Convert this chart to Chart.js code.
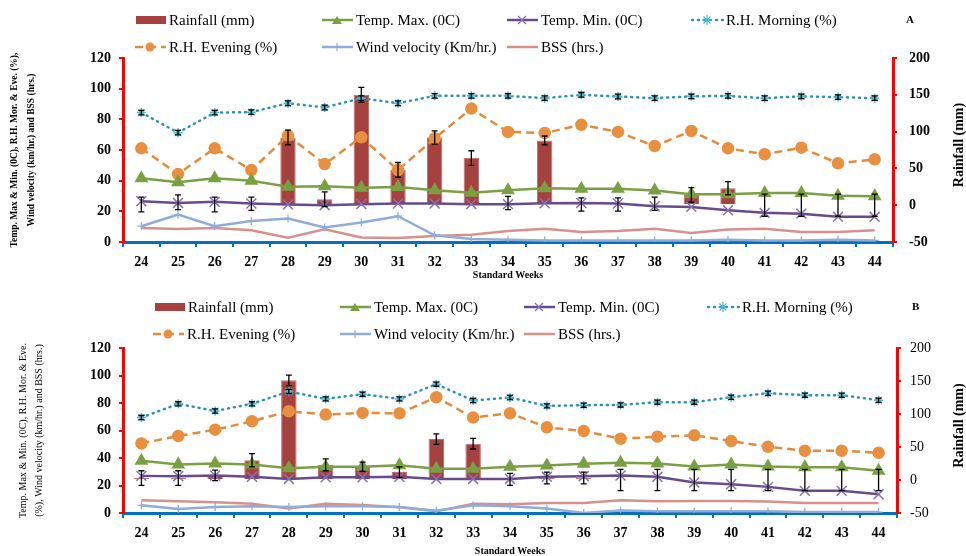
<!DOCTYPE html>
<html>
<head>
<meta charset="utf-8">
<script src="https://cdn.jsdelivr.net/npm/chart.js@4.4.1/dist/chart.umd.min.js"></script>
<style>
  body { margin: 0; background: #fff; }
  #wrap { position: relative; width: 966px; height: 556px; font-family: "Liberation Serif", serif; }
  canvas { position: absolute; left: 0; }
  .leg { position: absolute; display: flex; align-items: center; font-size: 15px; white-space: nowrap; color: #000; }
  .leg svg { margin-right: 2px; }
  .tag { position: absolute; font-weight: bold; font-size: 11px; }
</style>
</head>
<body>
<div id="wrap">
  <canvas id="chartA" width="966" height="280" style="top:0"></canvas>
  <canvas id="chartB" width="966" height="276" style="top:280px"></canvas>
  <div class="tag" style="left:906px;top:13px">A</div>
  <div class="tag" style="left:912px;top:300px">B</div>
</div>
<script>
const weeks = ['24','25','26','27','28','29','30','31','32','33','34','35','36','37','38','39','40','41','42','43','44'];

// Panel A
const rainA    = [1, 4, 1, 2, 92, 8, 150, 48, 92, 64, 3, 88, 1, 1, 2, 14, 23, 0, 0, 0, 0];
const rainErrA = [10, 10, 10, 9, 10, 10, 10, 10, 9, 10, 9, 6, 9, 9, 9, 10, 9, 15, 15, 15, 15];
const tMaxA    = [41.5, 39, 41.5, 40, 36, 36.4, 35.3, 35.8, 33.8, 32.1, 33.8, 35.1, 34.7, 34.7, 33.6, 31.2, 31.2, 31.9, 31.9, 30.1, 29.9];
const tMinA    = [26.6, 25.5, 26.2, 25.1, 24.4, 24, 24.7, 25.1, 25.1, 24.7, 24.7, 25.3, 25.5, 25.1, 23.3, 22.9, 20.7, 19, 18.5, 16.4, 16.4];
const rhMornA  = [84.4, 71.3, 84.4, 84.7, 90.5, 87.7, 93.8, 90.5, 95.3, 95.3, 95.3, 93.8, 96, 94.9, 93.8, 95, 95.3, 93.8, 95, 94.5, 93.8];
const rhMornErrA = [1.5, 1.5, 1.5, 1.5, 1.5, 1.5, 1.5, 1.5, 1.5, 1.5, 1.5, 1.5, 1.5, 1.5, 1.5, 1.5, 1.5, 1.5, 1.5, 1.5, 1.5];
const rhEveA   = [61.1, 44.3, 61.1, 46.9, 69.4, 50.8, 68.3, 46.9, 67.6, 87, 71.8, 71.1, 76.4, 71.8, 62.6, 72.4, 61.1, 57.2, 61.5, 51.3, 53.9];
const windA    = [10.3, 17.9, 10.3, 13.7, 15.3, 9.4, 12.7, 16.8, 4.4, 2, 1.5, 1, 1, 1, 1, 1, 1.5, 1, 1, 1.5, 1];
const bssA     = [9.2, 8.5, 9.2, 7.6, 2.8, 8.3, 3, 2.6, 3.9, 4.8, 7.2, 8.7, 6.5, 7.2, 8.7, 5.9, 8.1, 8.7, 6.5, 6.5, 7.6];

// Panel B
const rainB    = [3, 3, 7, 30, 151, 23, 20, 12, 62, 55, 1, 3, 3, 0, 0, 0, 0, 0, 0, 0, 0];
const rainErrB = [11, 11, 8, 10, 8, 9, 7, 8, 8, 8, 9, 9, 9, 16, 16, 16, 16, 16, 16, 16, 16];
const tMaxB    = [38, 35.3, 36, 35.3, 32.6, 33.6, 33.6, 34.8, 32.1, 32.1, 33.6, 34.6, 35.8, 36.5, 36, 33.8, 35.3, 33.8, 33.3, 33.3, 30.7];
const tMinB    = [27, 26.8, 27.3, 26.3, 24.8, 26, 26, 26.3, 24.8, 24.8, 24.8, 26.3, 26.8, 27.3, 26.3, 22.2, 20.9, 19, 16.1, 16.1, 13.6];
const rhMornB  = [69.4, 79.4, 74.2, 79.4, 88.4, 83, 86.4, 83, 93.7, 81.8, 84, 77.9, 78.4, 78.6, 80.6, 80.6, 84.2, 87.1, 85.7, 85.7, 82];
const rhMornErrB = [1.5, 1.5, 1.5, 1.5, 1.5, 1.5, 1.5, 1.5, 1.5, 1.5, 1.5, 1.5, 1.5, 1.5, 1.5, 1.5, 1.5, 1.5, 1.5, 1.5, 1.5];
const rhEveB   = [50.6, 56, 60.6, 66.7, 74, 71.6, 72.8, 72.5, 84.2, 69.4, 72.5, 62.3, 59.6, 54, 55.5, 56.5, 52.3, 48.2, 45.3, 45.3, 43.8];
const windB    = [5.6, 2.9, 4.4, 4.9, 4.4, 4.9, 4.9, 4.4, 1.7, 5.6, 4.9, 3.2, 0, 1.9, 1.2, 1.2, 1.2, 1.2, 0.7, 0.7, 0.7];
const bssB     = [9.3, 8.5, 7.8, 6.8, 3.2, 6.8, 5.8, 4.1, 1.2, 6.8, 6.3, 7.3, 7.3, 9.3, 8.5, 8.8, 8.8, 8.3, 7.3, 7.3, 7.3];

const SERIF = '"Liberation Serif", "Times New Roman", serif';
const RED = '#FF0000', BLUE = '#0070C0';

// black error bars for datasets that carry an "errors" array
const errorBars = {
  id: 'errorBars',
  afterDatasetsDraw(chart) {
    const ctx = chart.ctx;
    chart.data.datasets.forEach((ds, i) => {
      if (!ds.errors) return;
      const meta = chart.getDatasetMeta(i);
      const scale = chart.scales[ds.yAxisID];
      ctx.save();
      ctx.strokeStyle = '#000';
      ctx.lineWidth = 1.3;
      meta.data.forEach((el, j) => {
        const e = ds.errors[j];
        if (!e) return;
        const v = ds.data[j];
        const x = el.x;
        const y1 = scale.getPixelForValue(v + e), y2 = scale.getPixelForValue(v - e);
        ctx.beginPath();
        ctx.moveTo(x, y1); ctx.lineTo(x, y2);
        ctx.moveTo(x - 3, y1); ctx.lineTo(x + 3, y1);
        ctx.moveTo(x - 3, y2); ctx.lineTo(x + 3, y2);
        ctx.stroke();
      });
      ctx.restore();
    });
  }
};

// right axis title, reading bottom to top
const rightTitle = {
  id: 'rightTitle',
  afterDraw(chart, args, opts) {
    const ctx = chart.ctx, a = chart.chartArea;
    ctx.save();
    ctx.translate(opts.x, (a.top + a.bottom) / 2 - 5);
    ctx.rotate(-Math.PI / 2);
    ctx.font = 'bold 14px ' + SERIF;
    ctx.fillStyle = '#000';
    ctx.textAlign = 'center';
    ctx.textBaseline = 'middle';
    ctx.fillText(opts.text, 0, 0);
    ctx.restore();
  }
};

function makeDatasets(rain, rainErr, tMax, tMin, rhMorn, rhMornErr, rhEve, wind, bss) {
  return [
    { type: 'bar', label: 'Rainfall (mm)', data: rain, errors: rainErr, yAxisID: 'y1', order: 10,
      backgroundColor: '#A5423F', borderColor: '#C0706C', borderWidth: 1,
      categoryPercentage: 1, barPercentage: 0.42 },
    { type: 'line', label: 'Temp. Max. (0C)', data: tMax, yAxisID: 'y', order: 3,
      borderColor: '#79A042', borderWidth: 2.5, pointStyle: 'triangle', pointRadius: 5.5,
      pointBackgroundColor: '#79A042', pointBorderColor: '#79A042' },
    { type: 'line', label: 'Temp. Min. (0C)', data: tMin, yAxisID: 'y', order: 2,
      borderColor: '#674B8A', borderWidth: 2.5, pointStyle: 'crossRot', pointRadius: 7,
      pointBorderColor: '#8A70B0', pointBorderWidth: 1.5 },
    { type: 'line', label: 'R.H. Morning (%)', data: rhMorn, errors: rhMornErr, yAxisID: 'y', order: 5,
      borderColor: '#2C93AE', borderWidth: 2.5, borderDash: [1, 5], borderCapStyle: 'round',
      pointStyle: 'star', pointRadius: 4.5, pointBorderColor: '#4CB6CE', pointBorderWidth: 1.5 },
    { type: 'line', label: 'R.H. Evening (%)', data: rhEve, yAxisID: 'y', order: 4,
      borderColor: '#E38B3C', borderWidth: 2.5, borderDash: [8, 5],
      pointStyle: 'circle', pointRadius: 5, pointBackgroundColor: '#E8903F', pointBorderColor: '#E8903F' },
    { type: 'line', label: 'Wind velocity (Km/hr.)', data: wind, yAxisID: 'y', order: 6,
      borderColor: '#8FADD8', borderWidth: 2.5, pointStyle: 'cross', pointRadius: 4,
      pointBorderColor: '#8FADD8', pointBorderWidth: 1.3 },
    { type: 'line', label: 'BSS (hrs.)', data: bss, yAxisID: 'y', order: 7,
      borderColor: '#D6918F', borderWidth: 2.5, pointRadius: 0 }
  ];
}

function makeChart(id, datasets, o) {
  return new Chart(document.getElementById(id), {
    type: 'bar',
    data: { labels: weeks, datasets },
    plugins: [errorBars, rightTitle],
    options: {
      responsive: false,
      animation: false,
      devicePixelRatio: 1,
      layout: { padding: { top: o.top, left: 0, right: 0, bottom: 0 } },
      plugins: {
        legend: { display: false },
        tooltip: { enabled: false },
        rightTitle: { text: 'Rainfall (mm)', x: 959 }
      },
      scales: {
        x: {
          offset: true,
          afterFit: s => { s.height = o.xh; },
          grid: { offset: true, drawOnChartArea: false, color: BLUE, lineWidth: 2, tickLength: 5 },
          border: { color: BLUE, width: 3 },
          ticks: { color: '#000', padding: 7, font: { family: SERIF, size: 14, weight: 'bold' } },
          title: { display: true, text: 'Standard Weeks', color: '#000',
                   font: { family: SERIF, size: 10, weight: 'bold', lineHeight: 1 }, padding: { top: 0, bottom: 0 } }
        },
        y: {
          position: 'left', min: 0, max: 120,
          afterFit: s => { s.width = 123; },
          grid: { drawOnChartArea: false, color: RED, lineWidth: 2, tickLength: 4 },
          border: { color: RED, width: 3 },
          ticks: { stepSize: 20, color: '#000', padding: 8, font: { family: SERIF, size: 14, weight: 'bold' } },
          title: { display: true, text: o.yTitle, color: '#000', font: o.yTitleFont, padding: o.yTitlePad }
        },
        y1: {
          position: 'right', min: -50, max: 200,
          afterFit: s => { s.width = o.rw; },
          grid: { drawOnChartArea: false, color: RED, lineWidth: 2, tickLength: 4 },
          border: { color: RED, width: 3 },
          ticks: { stepSize: 50, color: '#000', padding: o.rPad, font: o.rFont }
        }
      }
    }
  });
}

const chartA = makeChart('chartA',
  makeDatasets(rainA, rainErrA, tMaxA, tMinA, rhMornA, rhMornErrA, rhEveA, windA, bssA),
  { top: 58, xh: 38, rw: 73, rPad: 12,
    rFont: { family: SERIF, size: 14, weight: 'bold' },
    yTitle: ['Temp. Max & Min. (0C), R.H. Mor. & Eve. (%),', 'Wind velocity (km/hr.) and BSS (hrs.)'],
    yTitleFont: { family: SERIF, size: 9.5, weight: 'bold', lineHeight: '17px' },
    yTitlePad: { top: 6, bottom: 0 } });

const chartB = makeChart('chartB',
  makeDatasets(rainB, rainErrB, tMaxB, tMinB, rhMornB, rhMornErrB, rhEveB, windB, bssB),
  { top: 68, xh: 43, rw: 69, rPad: 9,
    rFont: { family: SERIF, size: 14, weight: 'normal' },
    yTitle: ['Temp. Max & Min. (0C), R.H. Mor. & Eve.', '(%), Wind velocity (km/hr.) and BSS (hrs.)'],
    yTitleFont: { family: SERIF, size: 10, weight: 'normal', lineHeight: '16px' },
    yTitlePad: { top: 15, bottom: 0 } });

// legend icons drawn as small svgs from the dataset styles
function icon(ds) {
  if (ds.type === 'bar') {
    return '<svg width="31" height="10"><rect x="0" y="1" width="30" height="8" fill="' + ds.backgroundColor + '"/></svg>';
  }
  const c = ds.borderColor, m = ds.pointBorderColor || c;
  const dash = ds.borderDash ? ' stroke-dasharray="' + ds.borderDash.join(' ') + '"' : '';
  const cap = ds.borderCapStyle === 'round' ? ' stroke-linecap="round"' : '';
  let mk = '';
  switch (ds.pointStyle) {
    case 'triangle': mk = '<polygon points="16,1 21,9 11,9" fill="' + m + '"/>'; break;
    case 'crossRot': mk = '<path d="M12 1 L20 9 M20 1 L12 9" stroke="' + m + '" stroke-width="1.3"/>'; break;
    case 'star': mk = '<path d="M16 0 V10 M11 5 H21 M12.5 1.5 L19.5 8.5 M19.5 1.5 L12.5 8.5" stroke="' + m + '" stroke-width="1.2"/>'; break;
    case 'circle': mk = '<circle cx="16" cy="5" r="4.5" fill="' + m + '"/>'; break;
    case 'cross': mk = '<path d="M16 1 V9" stroke="' + m + '" stroke-width="1.2"/>'; break;
  }
  return '<svg width="33" height="10"><line x1="1" y1="5" x2="32" y2="5" stroke="' + c + '" stroke-width="2.5"' + dash + cap + '/>' + mk + '</svg>';
}

function buildLegend(chart, spots) {
  const wrap = document.getElementById('wrap');
  chart.data.datasets.forEach((ds, i) => {
    const d = document.createElement('div');
    d.className = 'leg';
    d.style.left = spots[i][0] + 'px';
    d.style.top = (spots[i][1] - 10) + 'px';
    d.style.height = '20px';
    d.innerHTML = icon(ds) + '<span>' + ds.label + '</span>';
    wrap.appendChild(d);
  });
}

buildLegend(chartA, [[136, 20], [321, 20], [506, 20], [691, 20], [134, 47], [321, 47], [506, 47]]);
buildLegend(chartB, [[155, 307], [339, 307], [523, 307], [707, 307], [152, 334], [339, 334], [523, 334]]);
</script>
</body>
</html>
